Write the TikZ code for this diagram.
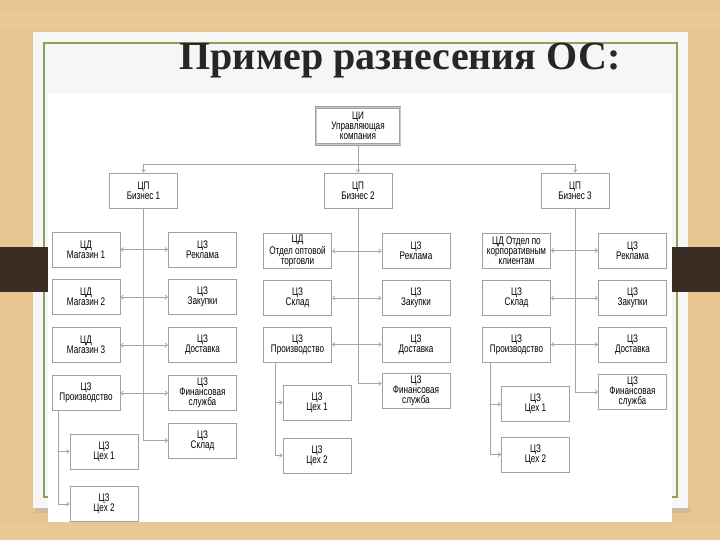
\documentclass[tikz,border=0pt]{standalone}
\usepackage{fontspec}
\newfontfamily\boxfont[FakeStretch=0.74]{Liberation Sans}
\newfontfamily\titlefont{Liberation Serif}
\usetikzlibrary{arrows.meta,calc}
\definecolor{wood}{RGB}{232,196,144}
\definecolor{woodlight}{RGB}{240,210,165}
\definecolor{wooddark}{RGB}{58,46,36}
\definecolor{paper}{RGB}{246,246,246}
\definecolor{olive}{RGB}{140,160,90}
\definecolor{boxline}{RGB}{160,160,160}
\definecolor{conn}{RGB}{165,165,165}
\begin{document}
\begin{tikzpicture}[x=1pt,y=-1pt,
  cbox/.style={draw=boxline,line width=0.8pt,fill=white,minimum width=68pt,minimum height=35pt,inner sep=1pt,align=center,font=\boxfont\fontsize{11}{10}\selectfont},
  link/.style={draw=conn,line width=0.7pt},
  onearrow/.style={-{Straight Barb[length=2.5pt,width=4pt]}},
  dbl/.style={{Straight Barb[length=2.5pt,width=4pt]}-{Straight Barb[length=2.5pt,width=4pt]}}
]
% background
\useasboundingbox (0,0) rectangle (720,540);
\fill[wood] (0,0) rectangle (720,540);
\fill[woodlight,opacity=0.3] (0,10) rectangle (720,30);
\fill[woodlight,opacity=0.3] (0,522) rectangle (720,540);
% paper
\fill[black!30,opacity=0.5] (35,506) rectangle (690,513);
\fill[paper] (33,32) rectangle (688,508);
\draw[olive,line width=1.2pt] (44,43) rectangle (677,497);
\fill[white] (48,93) rectangle (672,522);
% dark bands
\fill[wooddark] (0,247) rectangle (48,292);
\fill[wooddark] (672,247) rectangle (720,292);
% title
\node[font=\titlefont\bfseries\fontsize{40}{41}\selectfont,text=black!85,anchor=base] (title) at (400,70) {Пример разнесения ОС:};

% top level
\node[cbox,double=black!22,double distance=1pt,minimum width=84pt,minimum height=37pt] (ci) at (358,126) {ЦИ\\Управляющая\\компания};
\node[cbox] (p1) at (143.5,190.5) {ЦП\\Бизнес 1};
\node[cbox] (p2) at (358,190.5) {ЦП\\Бизнес 2};
\node[cbox] (p3) at (575,190.5) {ЦП\\Бизнес 3};

% business 1
\node[cbox] (b1m1) at (86,249.5) {ЦД\\Магазин 1};
\node[cbox] (b1rk) at (202.5,249.5) {ЦЗ\\Реклама};
\node[cbox] (b1m2) at (86,297) {ЦД\\Магазин 2};
\node[cbox] (b1zk) at (202.5,297) {ЦЗ\\Закупки};
\node[cbox] (b1m3) at (86,345) {ЦД\\Магазин 3};
\node[cbox] (b1ds) at (202.5,345) {ЦЗ\\Доставка};
\node[cbox] (b1pr) at (86,393) {ЦЗ\\Производство};
\node[cbox] (b1fn) at (202.5,393) {ЦЗ\\Финансовая\\служба};
\node[cbox] (b1sk) at (202.5,440.5) {ЦЗ\\Склад};
\node[cbox] (b1c1) at (104,451.5) {ЦЗ\\Цех 1};
\node[cbox] (b1c2) at (104,504) {ЦЗ\\Цех 2};

% business 2
\node[cbox] (b2ot) at (297.5,251) {ЦД\\Отдел оптовой\\торговли};
\node[cbox] (b2rk) at (416,251) {ЦЗ\\Реклама};
\node[cbox] (b2sk) at (297.5,298) {ЦЗ\\Склад};
\node[cbox] (b2zk) at (416,298) {ЦЗ\\Закупки};
\node[cbox] (b2pr) at (297.5,344.5) {ЦЗ\\Производство};
\node[cbox] (b2ds) at (416,344.5) {ЦЗ\\Доставка};
\node[cbox] (b2fn) at (416,390.5) {ЦЗ\\Финансовая\\служба};
\node[cbox] (b2c1) at (317,402.5) {ЦЗ\\Цех 1};
\node[cbox] (b2c2) at (317,455.5) {ЦЗ\\Цех 2};

% business 3
\node[cbox] (b3ot) at (516.5,250.5) {ЦД Отдел по\\корпоративным\\клиентам};
\node[cbox] (b3rk) at (632.5,250.5) {ЦЗ\\Реклама};
\node[cbox] (b3sk) at (516.5,298) {ЦЗ\\Склад};
\node[cbox] (b3zk) at (632.5,298) {ЦЗ\\Закупки};
\node[cbox] (b3pr) at (516.5,344.5) {ЦЗ\\Производство};
\node[cbox] (b3ds) at (632.5,344.5) {ЦЗ\\Доставка};
\node[cbox] (b3fn) at (632.5,392) {ЦЗ\\Финансовая\\служба};
\node[cbox] (b3c1) at (535.5,404) {ЦЗ\\Цех 1};
\node[cbox] (b3c2) at (535.5,454.5) {ЦЗ\\Цех 2};

% connectors top
\coordinate (bus) at (358,164);
\draw[link] (ci.south) -- (bus);
\draw[link,onearrow] (bus) -| (p1.north);
\draw[link,onearrow] (bus) -- (p2.north);
\draw[link,onearrow] (bus) -| (p3.north);

% trunks
\draw[link,onearrow] (p1.south) |- (b1sk.west);
\draw[link,onearrow] (p2.south) |- ($(b2fn.west)+(0,-7)$);
\draw[link,onearrow] (p3.south) |- (b3fn.west);

% rows
\foreach \a/\b in {b1m1/b1rk,b1m2/b1zk,b1m3/b1ds,b1pr/b1fn,b2ot/b2rk,b2sk/b2zk,b2pr/b2ds,b3ot/b3rk,b3sk/b3zk,b3pr/b3ds}
  \draw[link,dbl] (\a.east) -- (\b.west);

% workshops
\draw[link,onearrow] ($(b1pr.south west)+(7,0)$) |- (b1c1.west);
\draw[link,onearrow] ($(b1pr.south west)+(7,0)$) |- (b1c2.west);
\draw[link,onearrow] ($(b2pr.south west)+(12,0)$) |- (b2c1.west);
\draw[link,onearrow] ($(b2pr.south west)+(12,0)$) |- (b2c2.west);
\draw[link,onearrow] ($(b3pr.south west)+(8,0)$) |- (b3c1.west);
\draw[link,onearrow] ($(b3pr.south west)+(8,0)$) |- (b3c2.west);
\end{tikzpicture}
\end{document}
